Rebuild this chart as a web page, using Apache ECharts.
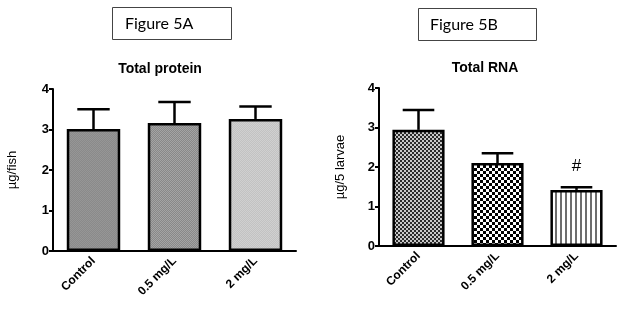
<!DOCTYPE html>
<html>
<head>
<meta charset="utf-8">
<script src="https://cdn.jsdelivr.net/npm/echarts@6/dist/echarts.min.js"></script>
<style>
  html, body { margin: 0; padding: 0; background: #fff; }
  #chart { width: 624px; height: 309px; }
</style>
</head>
<body>
<div id="chart"></div>
<script>
const categories = ['Control', '0.5 mg/L', '2 mg/L']
const yTicks = [0, 1, 2, 3, 4]

// Figure 5A - total protein (µg/fish)
const proteinMean = [3.01, 3.16, 3.26]
const proteinErr = [0.49, 0.52, 0.31]

// Figure 5B - total RNA (µg/5 larvae)
const rnaMean = [2.94, 2.10, 1.42]
const rnaErr = [0.50, 0.25, 0.07]
const rnaSig = ['', '', '#']

// small canvas fills to mimic the printed hatching
function pattern(w, h, draw) {
  const c = document.createElement('canvas')
  c.width = w
  c.height = h
  const ctx = c.getContext('2d')
  draw(ctx)
  return { image: c, repeat: 'repeat' }
}

function checker(size, a, b) {
  return pattern(size * 2, size * 2, ctx => {
    ctx.fillStyle = a
    ctx.fillRect(0, 0, size * 2, size * 2)
    ctx.fillStyle = b
    ctx.fillRect(0, 0, size, size)
    ctx.fillRect(size, size, size, size)
  })
}

const stripes = pattern(5, 5, ctx => {
  ctx.fillStyle = '#fff'
  ctx.fillRect(0, 0, 5, 5)
  ctx.fillStyle = '#6e6e6e'
  ctx.fillRect(0, 0, 2, 5)
})

const fillsA = [checker(1, '#8a8a8a', '#969696'), checker(1, '#888888', '#a4a4a4'), checker(1, '#c2c2c2', '#d0d0d0')]
const fillsB = [checker(2, '#c8c8c8', '#2a2a2a'), checker(3, '#ffffff', '#000000'), stripes]

const font = 'Arial, "Liberation Sans", sans-serif'

function xAxisCfg(gridIndex) {
  return {
    type: 'category',
    gridIndex,
    data: categories,
    axisLine: { lineStyle: { color: '#000', width: 2 } },
    axisTick: { alignWithLabel: true, length: 5, lineStyle: { color: '#000', width: 2 } },
    axisLabel: { rotate: 45, margin: 8, color: '#000', fontWeight: 'bold', fontSize: 12, fontFamily: font },
  }
}

function yAxisCfg(gridIndex, name, gap) {
  return {
    type: 'value',
    gridIndex,
    min: 0,
    max: 4,
    interval: 1,
    name,
    nameLocation: 'middle',
    nameGap: gap,
    nameTextStyle: { color: '#000', fontSize: 13, fontFamily: font },
    splitLine: { show: false },
    axisLine: { show: true, lineStyle: { color: '#000', width: 2 } },
    axisTick: { show: true, length: 4, lineStyle: { color: '#000', width: 2 } },
    axisLabel: {
      margin: 4, color: '#000', fontWeight: 'bold', fontSize: 13, fontFamily: font,
      formatter: v => yTicks.includes(v) ? String(v) : '',
    },
  }
}

function barSeries(idx, means, fills) {
  return {
    type: 'bar',
    xAxisIndex: idx,
    yAxisIndex: idx,
    barWidth: '66%',
    data: means.map((v, i) => ({ value: v, itemStyle: { color: fills[i] } })),
    itemStyle: { borderColor: '#000', borderWidth: 2.5 },
    silent: true,
  }
}

function errSeries(idx, means, errs, marks) {
  return {
    type: 'custom',
    xAxisIndex: idx,
    yAxisIndex: idx,
    silent: true,
    z: 3,
    data: means.map((m, i) => [i, m, errs[i]]),
    renderItem(params, api) {
      const i = api.value(0)
      const m = api.value(1)
      const e = api.value(2)
      const bottom = api.coord([i, m])
      const top = api.coord([i, m + e])
      const half = api.size([1, 0])[0] * 0.2
      const style = { stroke: '#000', lineWidth: 2.5 }
      const children = [
        { type: 'line', shape: { x1: top[0], y1: bottom[1], x2: top[0], y2: top[1] }, style },
        { type: 'line', shape: { x1: top[0] - half, y1: top[1], x2: top[0] + half, y2: top[1] }, style },
      ]
      const mark = marks ? marks[i] : ''
      if (mark) {
        children.push({
          type: 'text',
          style: { text: mark, x: top[0], y: top[1] - 21, align: 'center', verticalAlign: 'middle', fontSize: 17, fontFamily: font, fill: '#000' },
        })
      }
      return { type: 'group', children }
    },
  }
}

const chart = echarts.init(document.getElementById('chart'), null, { renderer: 'canvas' })

chart.setOption({
  animation: false,
  title: [
    { text: 'Total protein', left: 155, top: 57, textAlign: 'center', textStyle: { fontSize: 14, fontWeight: 'bold', color: '#000', fontFamily: font } },
    { text: 'Total RNA', left: 480, top: 56, textAlign: 'center', textStyle: { fontSize: 14, fontWeight: 'bold', color: '#000', fontFamily: font } },
  ],
  graphic: [
    { type: 'rect', shape: { x: 112.5, y: 7.5, width: 119, height: 32 }, style: { fill: '#fff', stroke: '#444', lineWidth: 1 } },
    { type: 'text', x: 125, y: 24, style: { text: 'Figure 5A', fontSize: 16, fontFamily: 'Lato, "Open Sans", sans-serif', fill: '#000', verticalAlign: 'middle' } },
    { type: 'rect', shape: { x: 418.5, y: 8.5, width: 118, height: 32 }, style: { fill: '#fff', stroke: '#444', lineWidth: 1 } },
    { type: 'text', x: 430, y: 25, style: { text: 'Figure 5B', fontSize: 16, fontFamily: 'Lato, "Open Sans", sans-serif', fill: '#000', verticalAlign: 'middle' } },
  ],
  grid: [
    { left: 53, top: 89, width: 243, height: 162 },
    { left: 379, top: 88, width: 237, height: 158 },
  ],
  xAxis: [xAxisCfg(0), xAxisCfg(1)],
  yAxis: [yAxisCfg(0, 'µg/fish', 34), yAxisCfg(1, 'µg/5 larvae', 32)],
  series: [
    barSeries(0, proteinMean, fillsA),
    errSeries(0, proteinMean, proteinErr, null),
    barSeries(1, rnaMean, fillsB),
    errSeries(1, rnaMean, rnaErr, rnaSig),
  ],
})
</script>
</body>
</html>
